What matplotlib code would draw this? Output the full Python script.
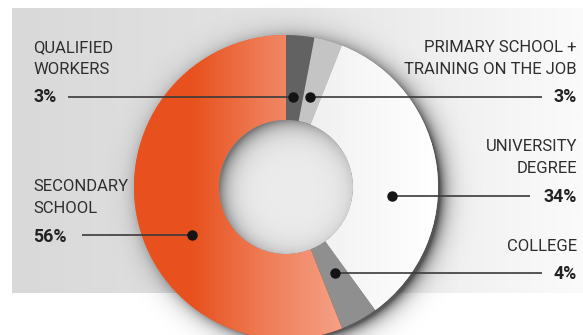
import numpy as np
import matplotlib
matplotlib.use("Agg")
import matplotlib.pyplot as plt
from matplotlib.patches import Circle
from matplotlib.colors import LinearSegmentedColormap

# ---- data ----
categories = [["QUALIFIED", "WORKERS"], ["PRIMARY SCHOOL +", "TRAINING ON THE JOB"],
              ["UNIVERSITY", "DEGREE"], ["COLLEGE"], ["SECONDARY", "SCHOOL"]]
values = [3, 3, 34, 4, 56]
pct_labels = ["3%", "3%", "34%", "4%", "56%"]

# ---- layout / style ----
W, H = 583, 335
CX, CY = 286, H - 187
R_OUT, R_IN = 152, 67
slice_colors = ["#626262", "#c4c4c4", "#f4f4f4", "#8f8f8f", "#ec5a28"]
dot_polar = [(85.6, 90), (75.1, 93), (-4.9, 106.4), (-60.3, 99), (207, 105.5)]
label_side = ["left", "right", "right", "right", "left"]
label_y = [[46.5, 68.5], [46.5, 68.5], [145, 167], [245], [185, 207]]  # image-y centers
pct_y = [95.5, 95.5, 195, 272, 235]
line_end_x = [68, 542, 530, 542, 82]
TXT = "#2e2e2e"
FONT = "Roboto"
FS = 12.0
FS_PCT = 12.8

fig = plt.figure(figsize=(W / 100, H / 100), dpi=100)
ax = fig.add_axes([0, 0, 1, 1])

# background panel gradient
grad = np.linspace(0, 1, 256)[None, :]
panel_cmap = LinearSegmentedColormap.from_list("p", ["#d9d9d9", "#e4e4e4", "#fbfbfb"])
ax.imshow(grad, cmap=panel_cmap, extent=[12, W, H - 293, H - 8], aspect="auto", zorder=0)

# drop shadow around donut
yy, xx = np.mgrid[0:H, 0:W]
d = np.hypot(xx + 0.5 - (CX + 6), (H - yy - 0.5) - (CY - 4))
alpha = 0.65 * np.exp(-np.clip(d - (R_OUT - 4), 0, None) / 8.0)
alpha[d < R_OUT - 4] = 0.65
shadow = np.zeros((H, W, 4))
shadow[..., 3] = alpha
ax.imshow(shadow, extent=[0, W, 0, H], aspect="auto", zorder=1, interpolation="bilinear")

# donut
wedges, _ = ax.pie(values, colors=slice_colors, startangle=90, counterclock=False,
                   radius=R_OUT, center=(CX, CY), frame=True,
                   wedgeprops=dict(width=R_OUT - R_IN, linewidth=0))
for w in wedges:
    w.set_zorder(2)

# orange gradient for secondary school
og = np.linspace(0, 1, 256)[None, :]
orange_cmap = LinearSegmentedColormap.from_list(
    "o", [(0, "#e8511d"), (0.28, "#e8521e"), (0.62, "#ef7d57"), (1, "#f5a389")])
im = ax.imshow(og, cmap=orange_cmap, extent=[CX - R_OUT, CX + 60, CY - R_OUT, CY + R_OUT],
               aspect="auto", zorder=3)
im.set_clip_path(wedges[4])

# light gradient for university slice
ug = np.linspace(0, 1, 256)[None, :]
uni_cmap = LinearSegmentedColormap.from_list("u", ["#ececec", "#f7f7f7", "#ffffff"])
im2 = ax.imshow(ug, cmap=uni_cmap, extent=[CX, CX + R_OUT, CY - R_OUT, CY + R_OUT],
                aspect="auto", zorder=3)
im2.set_clip_path(wedges[2])

# inner hole with inner shadow
hole = Circle((CX, CY), R_IN, facecolor="#ebebeb", edgecolor="none", zorder=4)
ax.add_patch(hole)
dh = np.hypot(xx + 0.5 - (CX + 7), (H - yy - 0.5) - (CY - 5))
a2 = 0.5 * np.exp(-np.clip(R_IN + 7 - dh, 0, None) / 10.0)
hs = np.zeros((H, W, 4))
hs[..., 3] = a2
im3 = ax.imshow(hs, extent=[0, W, 0, H], aspect="auto", zorder=5, interpolation="bilinear")
im3.set_clip_path(hole)

# leader lines, dots, labels
for i, lines in enumerate(categories):
    ang, rr = dot_polar[i]
    dx = CX + rr * np.cos(np.radians(ang))
    dy = CY + rr * np.sin(np.radians(ang))
    ax.plot([line_end_x[i], dx], [dy, dy], color="#3a3a3a", lw=1.2, zorder=6,
            solid_capstyle="butt")
    ax.plot([dx], [dy], "o", color="#141414", ms=6.5, zorder=7)
    if label_side[i] == "left":
        xt, ha = 33, "left"
    else:
        xt, ha = 577, "right"
    for txt, yc in zip(lines, label_y[i]):
        ax.text(xt, H - yc, txt, ha=ha, va="center_baseline", fontsize=FS, family=FONT,
                color=TXT, zorder=8)
    ax.text(xt, H - pct_y[i], pct_labels[i], ha=ha, va="center_baseline", fontsize=FS_PCT,
            family=FONT, fontweight="bold", color="#222222", zorder=8)

ax.set_xlim(0, W)
ax.set_ylim(0, H)
ax.set_aspect("auto")
ax.axis("off")
fig.savefig("out.png", dpi=100, facecolor="white")
